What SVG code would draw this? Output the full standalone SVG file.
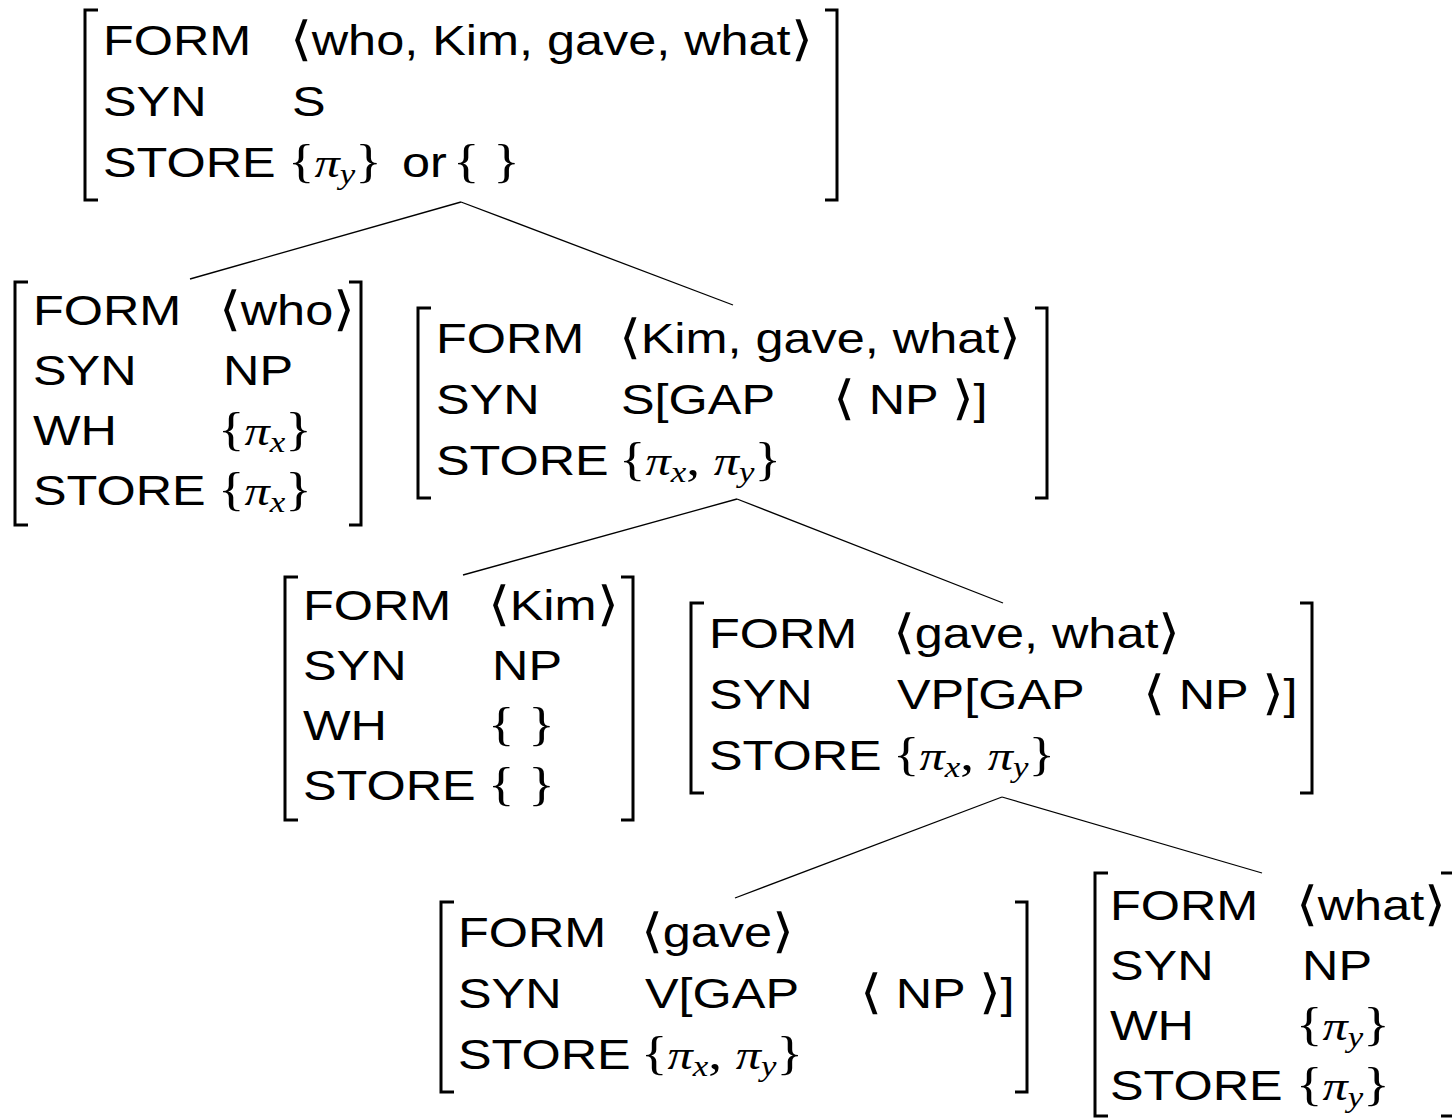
<svg xmlns="http://www.w3.org/2000/svg" width="1452" height="1118" viewBox="0 0 1452 1118">
  <style>
    text { font-family: "Liberation Sans", "DejaVu Sans", sans-serif; font-size: 42px; fill: #000; }
    .m { font-family: "Liberation Serif", "DejaVu Serif", serif; font-style: normal; font-size: 46px; }
    .i { font-family: "Liberation Serif", "DejaVu Serif", serif; font-style: italic; }
    .sub { font-family: "Liberation Serif", "DejaVu Serif", serif; font-style: italic; font-size: 29px; }
    .ab { font-family: "DejaVu Sans", sans-serif; font-size: 47px; font-weight: 200; }
    .br { fill: none; stroke: #000; stroke-width: 3; }
    .edge { fill: none; stroke: #000; stroke-width: 1.3; }
  </style>
  <rect width="1452" height="1118" fill="#fff"/>

  <!-- tree edges -->
  <g id="edges">
    <path class="edge" d="M461,202 L190,279"/>
    <path class="edge" d="M461,202 L733,305"/>
    <path class="edge" d="M737,499 L463,575"/>
    <path class="edge" d="M737,499 L1003,603"/>
    <path class="edge" d="M1002,797 L735,898"/>
    <path class="edge" d="M1002,797 L1262,873"/>
  </g>

  <!-- root: who, Kim, gave, what -->
  <g id="root">
    <path class="br" d="M98,10 H85 V200 H98"/>
    <path class="br" d="M825,10 H837 V200 H825"/>
    <text transform="translate(103,55) scale(1.2,1)">FORM</text>
    <text transform="translate(290,55) scale(1.2,1)"><tspan class="ab">⟨</tspan>who, Kim, gave, what<tspan class="ab">⟩</tspan></text>
    <text transform="translate(103,116) scale(1.2,1)">SYN</text>
    <text transform="translate(292,116) scale(1.2,1)">S</text>
    <text transform="translate(103,177) scale(1.2,1)">STORE</text>
    <text transform="translate(288,177) scale(1.2,1)"><tspan class="m">{</tspan><tspan class="i">π</tspan><tspan class="sub" dy="7">y</tspan><tspan class="m" dy="-7">}</tspan></text>
    <text transform="translate(402,177) scale(1.2,1)">or</text>
    <text class="m" transform="translate(453,177) scale(1.2,1)">{ }</text>
  </g>

  <!-- who -->
  <g id="who">
    <path class="br" d="M28,282 H15 V525 H28"/>
    <path class="br" d="M349,282 H361 V525 H349"/>
    <text transform="translate(33,325) scale(1.2,1)">FORM</text>
    <text transform="translate(219,325) scale(1.2,1)"><tspan class="ab">⟨</tspan>who<tspan class="ab">⟩</tspan></text>
    <text transform="translate(33,385) scale(1.2,1)">SYN</text>
    <text transform="translate(223,385) scale(1.2,1)">NP</text>
    <text transform="translate(33,445) scale(1.2,1)">WH</text>
    <text transform="translate(218,445) scale(1.2,1)"><tspan class="m">{</tspan><tspan class="i">π</tspan><tspan class="sub" dy="7">x</tspan><tspan class="m" dy="-7">}</tspan></text>
    <text transform="translate(33,505) scale(1.2,1)">STORE</text>
    <text transform="translate(218,505) scale(1.2,1)"><tspan class="m">{</tspan><tspan class="i">π</tspan><tspan class="sub" dy="7">x</tspan><tspan class="m" dy="-7">}</tspan></text>
  </g>

  <!-- Kim, gave, what -->
  <g id="s-gap">
    <path class="br" d="M431,308 H418 V498 H431"/>
    <path class="br" d="M1035,308 H1047 V498 H1035"/>
    <text transform="translate(436,353) scale(1.2,1)">FORM</text>
    <text transform="translate(619,353) scale(1.2,1)"><tspan class="ab">⟨</tspan>Kim, gave, what<tspan class="ab">⟩</tspan></text>
    <text transform="translate(436,414) scale(1.2,1)">SYN</text>
    <text transform="translate(621,414) scale(1.2,1)">S[GAP</text>
    <text transform="translate(833,414) scale(1.2,1)"><tspan class="ab">⟨</tspan> NP <tspan class="ab">⟩</tspan>]</text>
    <text transform="translate(436,475) scale(1.2,1)">STORE</text>
    <text transform="translate(619,475) scale(1.2,1)"><tspan class="m">{</tspan><tspan class="i">π</tspan><tspan class="sub" dy="7">x</tspan><tspan class="m" dy="-7">, </tspan><tspan class="i">π</tspan><tspan class="sub" dy="7">y</tspan><tspan class="m" dy="-7">}</tspan></text>
  </g>

  <!-- Kim -->
  <g id="kim">
    <path class="br" d="M298,577 H285 V820 H298"/>
    <path class="br" d="M621,577 H633 V820 H621"/>
    <text transform="translate(303,620) scale(1.2,1)">FORM</text>
    <text transform="translate(488,620) scale(1.2,1)"><tspan class="ab">⟨</tspan>Kim<tspan class="ab">⟩</tspan></text>
    <text transform="translate(303,680) scale(1.2,1)">SYN</text>
    <text transform="translate(492,680) scale(1.2,1)">NP</text>
    <text transform="translate(303,740) scale(1.2,1)">WH</text>
    <text class="m" transform="translate(488,740) scale(1.2,1)">{ }</text>
    <text transform="translate(303,800) scale(1.2,1)">STORE</text>
    <text class="m" transform="translate(488,800) scale(1.2,1)">{ }</text>
  </g>

  <!-- gave, what -->
  <g id="vp-gap">
    <path class="br" d="M704,603 H691 V793 H704"/>
    <path class="br" d="M1300,603 H1312 V793 H1300"/>
    <text transform="translate(709,648) scale(1.2,1)">FORM</text>
    <text transform="translate(893,648) scale(1.2,1)"><tspan class="ab">⟨</tspan>gave, what<tspan class="ab">⟩</tspan></text>
    <text transform="translate(709,709) scale(1.2,1)">SYN</text>
    <text transform="translate(897,709) scale(1.2,1)">VP[GAP</text>
    <text transform="translate(1143,709) scale(1.2,1)"><tspan class="ab">⟨</tspan> NP <tspan class="ab">⟩</tspan>]</text>
    <text transform="translate(709,770) scale(1.2,1)">STORE</text>
    <text transform="translate(893,770) scale(1.2,1)"><tspan class="m">{</tspan><tspan class="i">π</tspan><tspan class="sub" dy="7">x</tspan><tspan class="m" dy="-7">, </tspan><tspan class="i">π</tspan><tspan class="sub" dy="7">y</tspan><tspan class="m" dy="-7">}</tspan></text>
  </g>

  <!-- gave -->
  <g id="v-gap">
    <path class="br" d="M454,902 H441 V1092 H454"/>
    <path class="br" d="M1015,902 H1027 V1092 H1015"/>
    <text transform="translate(458,947) scale(1.2,1)">FORM</text>
    <text transform="translate(641,947) scale(1.2,1)"><tspan class="ab">⟨</tspan>gave<tspan class="ab">⟩</tspan></text>
    <text transform="translate(458,1008) scale(1.2,1)">SYN</text>
    <text transform="translate(645,1008) scale(1.2,1)">V[GAP</text>
    <text transform="translate(860,1008) scale(1.2,1)"><tspan class="ab">⟨</tspan> NP <tspan class="ab">⟩</tspan>]</text>
    <text transform="translate(458,1069) scale(1.2,1)">STORE</text>
    <text transform="translate(641,1069) scale(1.2,1)"><tspan class="m">{</tspan><tspan class="i">π</tspan><tspan class="sub" dy="7">x</tspan><tspan class="m" dy="-7">, </tspan><tspan class="i">π</tspan><tspan class="sub" dy="7">y</tspan><tspan class="m" dy="-7">}</tspan></text>
  </g>

  <!-- what -->
  <g id="what">
    <path class="br" d="M1108,873 H1095 V1116 H1108"/>
    <path class="br" d="M1441,873 H1454 V1116 H1441"/>
    <text transform="translate(1110,920) scale(1.2,1)">FORM</text>
    <text transform="translate(1296,920) scale(1.2,1)"><tspan class="ab">⟨</tspan>what<tspan class="ab">⟩</tspan></text>
    <text transform="translate(1110,980) scale(1.2,1)">SYN</text>
    <text transform="translate(1302,980) scale(1.2,1)">NP</text>
    <text transform="translate(1110,1040) scale(1.2,1)">WH</text>
    <text transform="translate(1296,1040) scale(1.2,1)"><tspan class="m">{</tspan><tspan class="i">π</tspan><tspan class="sub" dy="7">y</tspan><tspan class="m" dy="-7">}</tspan></text>
    <text transform="translate(1110,1100) scale(1.2,1)">STORE</text>
    <text transform="translate(1296,1100) scale(1.2,1)"><tspan class="m">{</tspan><tspan class="i">π</tspan><tspan class="sub" dy="7">y</tspan><tspan class="m" dy="-7">}</tspan></text>
  </g>
</svg>
